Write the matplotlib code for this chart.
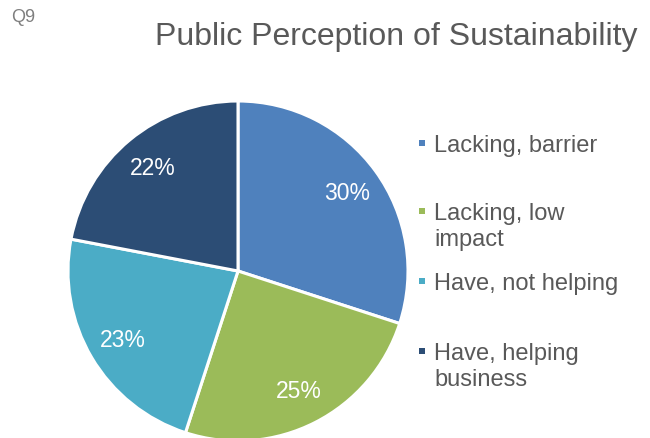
import textwrap
import matplotlib
matplotlib.use("Agg")
import matplotlib.pyplot as plt
from matplotlib.patches import Rectangle

plt.rcParams['font.family'] = ['Liberation Sans', 'DejaVu Sans']

title = "Public Perception of Sustainability"
question = "Q9"
categories = ["Lacking, barrier", "Lacking, low impact", "Have, not helping", "Have, helping business"]
values = [30, 25, 23, 22]
colors = ["#4F81BD", "#9BBB59", "#4BACC6", "#2C4D75"]

W, H = 650, 439
fig = plt.figure(figsize=(W / 100, H / 100), dpi=100)

cx, cy, r = 238, 272, 170
ax = fig.add_axes([(cx - r) / W, (H - cy - r) / H, 2 * r / W, 2 * r / H])
wedges, texts, autotexts = ax.pie(
    values, colors=colors, startangle=90, counterclock=False,
    autopct='%1.0f%%', pctdistance=0.79, radius=1.0,
    wedgeprops=dict(edgecolor='white', linewidth=2.2),
    textprops=dict(color='white', fontsize=16.5))
ax.set_xlim(-1, 1)
ax.set_ylim(-1, 1)
ax.set_aspect('equal')
ax.axis('off')

fig.text(396 / W, 1 - 37 / H, title, ha='center', va='center', fontsize=23, color='#595959')
fig.text(11 / W, 1 - 17 / H, question, ha='left', va='center', fontsize=13, color='#7F7F7F')

# legend
first_line_y = [144, 212, 282, 352]
for lab, col, y in zip(categories, colors, first_line_y):
    s = 6
    fig.patches.append(Rectangle(((419) / W, (H - y - s / 2) / H), s / W, s / H,
                                 transform=fig.transFigure, facecolor=col, edgecolor='none'))
    fig.text(434 / W, (H - y + 9) / H, textwrap.fill(lab, 17), ha='left', va='top',
             fontsize=17, color='#595959', linespacing=1.25)

fig.savefig("out.png", dpi=100, facecolor='white')
